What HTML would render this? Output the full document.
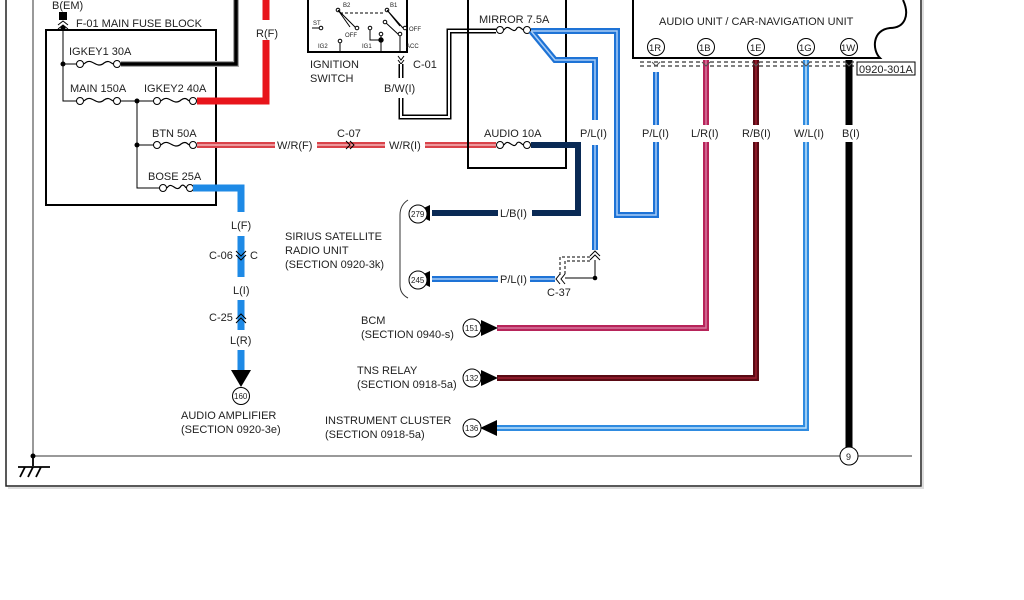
<!DOCTYPE html>
<html><head><meta charset="utf-8"><style>
html,body{margin:0;padding:0;background:#fff;width:1024px;height:600px;overflow:hidden}
svg{display:block}
text{font-family:"Liberation Sans",sans-serif;font-size:11px;fill:#222}
</style></head><body>
<svg width="1024" height="600" viewBox="0 0 1024 600" xmlns="http://www.w3.org/2000/svg">
<g fill="none" stroke-linejoin="miter">
<path d="M6 0 V486 H921 V0" stroke="#222" stroke-width="1.5"/>
<path d="M923 0 V488 H8" stroke="#ddd" stroke-width="2"/>
<path d="M33 0 V456 H912" stroke="#333" stroke-width="1"/>
<circle cx="33" cy="456" r="2.5" fill="#000" stroke="none"/>
<path d="M33 456 V466 M18 467 H50 M20 477 L25 467 M28 477 L33 467 M36 477 L41 467" stroke="#000" stroke-width="1.8"/>

<rect x="46" y="30" width="170" height="175" stroke="#000" stroke-width="2"/>
<rect x="59" y="12" width="8" height="8" fill="#000" stroke="none"/>
<path d="M58 25 L63 21 L68 25 M58 29 L63 25 L68 29" stroke="#000"/>
<path d="M63 28 V101 H80 M117 101 H157 M63 64 H80 M137 101 V188 H163 M137 145 H157" stroke="#000" stroke-width="1"/>
<g fill="#000" stroke="none"><circle cx="63" cy="28" r="2.5"/><circle cx="63" cy="64" r="2.5"/><circle cx="137" cy="101" r="2.5"/><circle cx="137" cy="145" r="2.5"/></g>
<g stroke="#000" stroke-width="1" fill="#fff">
<circle cx="80" cy="64" r="3.5"/><circle cx="117" cy="64" r="3.5"/>
<circle cx="80" cy="101" r="3.5"/><circle cx="117" cy="101" r="3.5"/>
<circle cx="157" cy="101" r="3.5"/><circle cx="193" cy="101" r="3.5"/>
<circle cx="157" cy="145" r="3.5"/><circle cx="193" cy="145" r="3.5"/>
<circle cx="163" cy="188" r="3.5"/><circle cx="190" cy="188" r="3.5"/>
<circle cx="500" cy="30" r="3.5"/><circle cx="527" cy="30" r="3.5"/>
<circle cx="500" cy="145" r="3.5"/><circle cx="527" cy="145" r="3.5"/>
</g>
<g stroke="#000" stroke-width="1.2">
<path d="M84 64 C92 56 96 70 104 63 C108 60 110 62 113 64"/>
<path d="M84 101 C92 93 96 107 104 100 C108 97 110 99 113 101"/>
<path d="M161 101 C169 93 173 107 181 100 C185 97 187 99 189 101"/>
<path d="M161 145 C169 137 173 151 181 144 C185 141 187 143 189 145"/>
<path d="M167 188 C172 180 176 194 181 186 C183 184 185 186 186 188"/>
<path d="M504 30 C509 22 513 36 517 28 C519 26 521 28 523 30"/>
<path d="M504 145 C509 137 513 151 517 143 C519 141 521 143 523 145"/>
</g>

<path d="M121 64 H236 V0" stroke="#aaa" stroke-width="6"/>
<path d="M121 64 H236 V0" stroke="#000" stroke-width="3.5"/>
<path d="M197 101 H266 V40 M266 20 V0" stroke="#e8141b" stroke-width="7"/>
<g stroke="#d9434a" stroke-width="6"><path d="M197 145 H275 M317 145 H385 M425 145 H496"/></g>
<g stroke="#f2b5b8" stroke-width="1.5"><path d="M197 145 H275 M317 145 H385 M425 145 H496"/></g>
<path d="M346 141 L350 145 L346 149 M350 141 L354 145 L350 149" stroke="#000"/>
<path d="M193 188 H241 V212 M241 236 V277 M241 300 V330 M241 350 V370" stroke="#1e8ae6" stroke-width="7"/>
<path d="M236 251 L241 256 L246 251 M236 255 L241 260 L246 255" stroke="#000" stroke-width="1"/>
<path d="M236 319 L241 314 L246 319 M236 323 L241 318 L246 323" stroke="#000" stroke-width="1"/>
<path d="M231 370 H251 L241 387 Z" fill="#000" stroke="none"/>
<circle cx="241" cy="396" r="8.5" stroke="#000" fill="#fff"/>

<path d="M308 0 V52 H407 V0" stroke="#000" stroke-width="2"/>
<g stroke="#000" stroke-width="1">
<path d="M312 28 H320"/><circle cx="321" cy="28" r="1.8" fill="#fff"/>
<path d="M340 52 V42"/><circle cx="340" cy="41" r="1.8" fill="#fff"/>
<circle cx="338" cy="10" r="1.8" fill="#fff"/><path d="M338 10 L356 28 M338 10 L350 27"/><circle cx="357" cy="28" r="1.8" fill="#fff"/>
<path d="M340 13 H385" stroke-dasharray="3,2"/>
<circle cx="387" cy="10" r="1.8" fill="#fff"/><path d="M387 10 L403 28 M387 10 L400 26 M385 22 L399 35"/><circle cx="405" cy="28" r="1.8" fill="#fff"/>
<path d="M370 28 V40 H381 V52 M381 40 V35 M400 35 V52"/><circle cx="370" cy="28" r="1.8" fill="#fff"/><circle cx="381" cy="34" r="1.8" fill="#fff"/><circle cx="381" cy="40" r="2.2" fill="#000"/>
<circle cx="385" cy="22" r="1.8" fill="#fff"/><circle cx="400" cy="34" r="1.8" fill="#fff"/>
</g>
<path d="M398 56 L401 60 L404 56 M398 60 L401 64 L404 60" stroke="#000"/>
<path d="M401 64 V78 M401 98 V117 H449 V31 H496" stroke="#000" stroke-width="5"/>
<path d="M401 64 V78 M401 98 V117 H449 V31 H496" stroke="#fff" stroke-width="2"/>
<path d="M468 0 V168 H566 V0" stroke="#000" stroke-width="2"/>
<g stroke="#1e73d6" stroke-width="6"><path d="M531 31 L555 60 H595 V120 M595 145 V250"/><path d="M531 31 H617 V215 H656 V72"/></g>
<g stroke="#a9cdf5" stroke-width="1.5"><path d="M531 31 L555 60 H595 V120 M595 145 V250"/><path d="M531 31 H617 V215 H656 V72"/></g>
<path d="M590 256 L595 251 L600 256 M590 260 L595 255 L600 260" stroke="#000"/>
<path d="M590 257 H560 V275" stroke="#000" stroke-dasharray="3,2"/>
<path d="M590 261 H565 V275" stroke="#000" stroke-dasharray="3,2"/>
<path d="M595 260 V278 H565" stroke="#000"/><circle cx="595" cy="278" r="2.3" fill="#000"/>
<path d="M560 274 L556 279 L560 284 M565 274 L561 279 L565 284" stroke="#000"/>
<g stroke="#1e73d6" stroke-width="6"><path d="M555 279 H530 M498 279 H432"/></g>
<g stroke="#a9cdf5" stroke-width="1.5"><path d="M555 279 H530 M498 279 H432"/></g>
<path d="M430 271 V287 L413 279 Z" fill="#000" stroke="none"/>
<circle cx="418" cy="280" r="9" stroke="#000" fill="#fff"/>
<path d="M531 145 H578 V213 H532 M498 213 H432" stroke="#0a2a55" stroke-width="6"/>
<path d="M430 205 V221 L413 213 Z" fill="#000" stroke="none"/>
<circle cx="418" cy="214" r="9" stroke="#000" fill="#fff"/>
<path d="M408 200 Q400 205 400 215 V285 Q400 294 408 298" stroke="#333"/>

<path d="M633 0 V58 H880 C872 50 872 30 890 28 C905 28 910 15 903 0" stroke="#000" stroke-width="2"/>
<g stroke="#000" fill="#fff"><circle cx="656" cy="47" r="8.5"/><circle cx="706" cy="47" r="8.5"/><circle cx="756" cy="47" r="8.5"/><circle cx="806" cy="47" r="8.5"/><circle cx="849" cy="47" r="8.5"/></g>
<path d="M640 62 H856 M640 66 H856" stroke="#000" stroke-dasharray="4,3"/>
<rect x="857" y="62" width="58" height="13" stroke="#000"/>
<path d="M706 60 V125 M706 142 V328 H497" stroke="#b7245a" stroke-width="6"/>
<path d="M706 60 V125 M706 142 V328 H497" stroke="#d67aa0" stroke-width="1.5"/>
<path d="M756 60 V125 M756 142 V378 H497" stroke="#5a0a14" stroke-width="6"/>
<path d="M756 60 V125 M756 142 V378 H497" stroke="#9a2030" stroke-width="1.5"/>
<path d="M806 60 V125 M806 142 V428 H497" stroke="#2f8be0" stroke-width="6"/>
<path d="M806 60 V125 M806 142 V428 H497" stroke="#bfe2fa" stroke-width="1.5"/>
<path d="M849 60 V125 M849 142 V448" stroke="#000" stroke-width="7"/>
<path d="M656 125 V142" stroke="#fff" stroke-width="10"/>
<g stroke="#555" stroke-width="1"><path d="M652 62 L656 66 L660 62 M702 62 L706 66 L710 62 M752 62 L756 66 L760 62 M802 62 L806 66 L810 62 M845 62 L849 66 L853 62"/></g>
<g fill="#000" stroke="none"><path d="M481 320 V336 L498 328 Z"/><path d="M481 370 V386 L498 378 Z"/><path d="M497 420 V436 L480 428 Z"/></g>
<g stroke="#000" fill="#fff"><circle cx="472" cy="328" r="9"/><circle cx="472" cy="378" r="9"/><circle cx="472" cy="428" r="9"/><circle cx="849" cy="456" r="9"/></g>
</g>

<g>
<text x="52" y="9">B(EM)</text>
<text x="76" y="27">F-01  MAIN FUSE BLOCK</text>
<text x="69" y="55">IGKEY1 30A</text>
<text x="70" y="92">MAIN 150A</text>
<text x="144" y="92">IGKEY2 40A</text>
<text x="152" y="137">BTN 50A</text>
<text x="148" y="180">BOSE 25A</text>
<text x="256" y="37">R(F)</text>
<text x="277" y="149">W/R(F)</text>
<text x="337" y="137">C-07</text>
<text x="389" y="149">W/R(I)</text>
<text x="231" y="229">L(F)</text>
<text x="209" y="259">C-06</text>
<text x="250" y="259">C</text>
<text x="233" y="294">L(I)</text>
<text x="209" y="321">C-25</text>
<text x="230" y="344">L(R)</text>
<text x="234" y="399" style="font-size:8px">160</text>
<text x="181" y="419">AUDIO AMPLIFIER</text>
<text x="181" y="433">(SECTION 0920-3e)</text>
<text x="310" y="68">IGNITION</text>
<text x="310" y="82">SWITCH</text>
<text x="413" y="68">C-01</text>
<text x="384" y="92">B/W(I)</text>
<text x="313" y="25" style="font-size:6px">ST</text>
<text x="318" y="48" style="font-size:6px">IG2</text>
<text x="362" y="48" style="font-size:6px">IG1</text>
<text x="406" y="48" style="font-size:6px">ACC</text>
<text x="343" y="7" style="font-size:6px">B2</text>
<text x="390" y="7" style="font-size:6px">B1</text>
<text x="345" y="37" style="font-size:6px">OFF</text>
<text x="409" y="31" style="font-size:6px">OFF</text>
<text x="479" y="23">MIRROR 7.5A</text>
<text x="484" y="137">AUDIO 10A</text>
<text x="580" y="137">P/L(I)</text>
<text x="500" y="217">L/B(I)</text>
<text x="500" y="283">P/L(I)</text>
<text x="547" y="296">C-37</text>
<text x="411" y="217" style="font-size:8px">279</text>
<text x="411" y="283" style="font-size:8px">245</text>
<text x="285" y="240">SIRIUS SATELLITE</text>
<text x="285" y="254">RADIO UNIT</text>
<text x="285" y="268">(SECTION 0920-3k)</text>
<text x="361" y="324">BCM</text>
<text x="361" y="338">(SECTION 0940-s)</text>
<text x="357" y="374">TNS RELAY</text>
<text x="357" y="388">(SECTION 0918-5a)</text>
<text x="325" y="424">INSTRUMENT CLUSTER</text>
<text x="325" y="438">(SECTION 0918-5a)</text>
<text x="465" y="331" style="font-size:8px">151</text>
<text x="465" y="381" style="font-size:8px">132</text>
<text x="465" y="431" style="font-size:8px">136</text>
<text x="846" y="460" style="font-size:9px">9</text>
<text x="659" y="25">AUDIO UNIT / CAR-NAVIGATION UNIT</text>
<text x="649" y="51" style="font-size:9.5px">1R</text>
<text x="699" y="51" style="font-size:9.5px">1B</text>
<text x="750" y="51" style="font-size:9.5px">1E</text>
<text x="799" y="51" style="font-size:9.5px">1G</text>
<text x="841" y="51" style="font-size:9.5px">1W</text>
<text x="859" y="73">0920-301A</text>
<text x="642" y="137">P/L(I)</text>
<text x="691" y="137">L/R(I)</text>
<text x="742" y="137">R/B(I)</text>
<text x="794" y="137">W/L(I)</text>
<text x="842" y="137">B(I)</text>
</g>
</svg>
</body></html>
